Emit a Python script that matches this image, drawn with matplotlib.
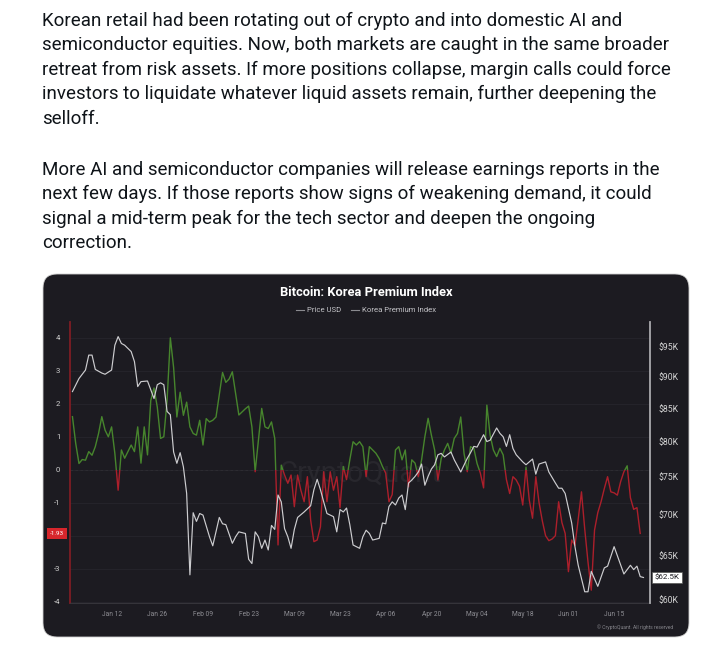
import numpy as np
import matplotlib
matplotlib.use("Agg")
import matplotlib.pyplot as plt
import matplotlib.dates as mdates
import matplotlib.transforms as mtransforms
from matplotlib.patches import FancyBboxPatch, Rectangle
from matplotlib.lines import Line2D

# ── data ─────────────────────────────────────────────────────────────────────
START = np.datetime64("2025-12-31")

price_days = [0, 2, 4, 5, 6, 7, 9, 10, 12, 13, 14, 15, 16, 18, 19, 20, 21, 23, 25, 26,
              27, 28, 29, 30, 31, 32, 33, 34, 35, 36, 37, 38, 39, 40, 42, 43, 45, 46, 47, 49,
              50, 51, 53, 54, 55, 56, 57, 58, 59, 60, 61, 62, 63, 64, 65, 66, 67, 68, 69, 71,
              73, 74, 75, 76, 77, 78, 80, 81, 82, 83, 84, 85, 86, 88, 89, 90, 91, 92, 94, 95,
              96, 97, 98, 99, 100, 101, 102, 103, 104, 105, 106, 107, 108, 109, 110, 111, 112, 113, 114, 116,
              117, 119, 121, 122, 123, 124, 126, 127, 128, 130, 131, 132, 133, 134, 135, 136, 138, 139, 141, 142,
              143, 145, 146, 148, 149, 150, 151, 153, 154, 155, 157, 158, 159, 161, 163, 164, 166, 169, 171, 172,
              173, 174, 175]
price_k = [87.6, 89.7, 91.1, 93.6, 93.6, 91.2, 90.6, 90.4, 91.1, 95.3, 96.8, 95.6, 95.3, 94.2, 92.5, 88.4, 89.2, 89.3, 86.5, 88.7,
           89.0, 88.7, 84.5, 84.0, 78.5, 76.9, 78.4, 76.4, 72.8, 62.8, 70.3, 69.2, 70.2, 70.0, 67.3, 66.2, 69.7, 68.9, 68.8, 66.5,
           67.3, 67.9, 67.7, 64.6, 64.1, 67.9, 67.3, 65.9, 66.9, 65.7, 68.7, 68.2, 72.6, 71.7, 68.3, 67.3, 65.9, 68.2, 69.7, 70.4,
           71.2, 73.3, 74.7, 73.3, 71.7, 70.2, 69.8, 67.9, 70.7, 70.4, 70.9, 68.8, 66.3, 65.9, 67.3, 68.1, 67.7, 66.9, 67.1, 69.0,
           68.9, 71.1, 71.7, 71.3, 72.2, 72.6, 70.7, 74.2, 74.6, 75.1, 75.7, 76.8, 73.9, 75.1, 76.1, 76.7, 78.1, 78.3, 77.8, 78.5,
           77.4, 75.7, 77.6, 78.4, 79.3, 79.2, 81.0, 80.0, 80.2, 82.0, 81.2, 80.7, 79.3, 81.0, 79.0, 78.1, 77.1, 76.7, 77.5, 75.4,
           76.8, 77.1, 75.7, 74.2, 73.5, 73.5, 72.8, 69.0, 66.1, 63.9, 60.9, 60.9, 63.2, 61.5, 63.6, 63.8, 66.1, 62.9, 63.9, 63.4,
           63.8, 62.6, 62.5]

kpi_days = [0, 1, 2, 3, 4, 5, 6, 7, 8, 9, 10, 11, 12, 13, 14, 15, 16, 17, 18, 19,
            20, 21, 22, 23, 24, 25, 26, 27, 28, 29, 30, 31, 32, 33, 34, 35, 36, 37, 38, 39,
            40, 41, 42, 43, 44, 46, 47, 48, 49, 51, 53, 54, 55, 56, 58, 59, 60, 61, 62, 63,
            64, 65, 66, 67, 68, 69, 70, 71, 72, 73, 74, 75, 76, 77, 78, 79, 80, 81, 82, 83,
            84, 85, 86, 87, 88, 89, 90, 91, 92, 93, 94, 95, 96, 97, 98, 99, 100, 101, 102, 103,
            104, 105, 106, 107, 108, 109, 110, 111, 112, 113, 114, 115, 116, 117, 118, 119, 120, 121, 122, 123,
            124, 125, 126, 127, 128, 129, 130, 131, 132, 133, 134, 135, 136, 137, 138, 139, 140, 141, 142, 143,
            144, 145, 146, 147, 148, 149, 150, 151, 152, 153, 154, 155, 156, 157, 158, 159, 160, 161, 162, 163,
            164, 165, 166, 167, 168, 169, 170, 171, 172, 173, 174]
kpi_values = [1.61, 0.80, 0.19, 0.31, 0.29, 0.55, 0.44, 0.70, 1.10, 1.61, 1.20, 1.00, 1.30, 0.49, -0.62, 0.60, 0.35, 0.55, 0.75, 0.55,
              1.30, 0.20, 1.30, 0.45, 2.10, 2.48, 1.90, 0.95, 1.00, 2.10, 4.00, 3.10, 1.60, 2.35, 1.65, 2.05, 1.30, 1.10, 1.05, 1.50,
              0.75, 1.55, 1.45, 1.50, 1.60, 2.95, 2.65, 2.75, 2.97, 1.66, 1.85, 1.93, 1.30, -0.06, 1.86, 1.30, 1.25, 1.45, 0.95, -2.28,
              0.14, -0.16, -0.41, -0.16, -1.12, -0.16, -0.62, -0.97, -0.21, -1.53, -2.18, -2.13, -1.73, -0.06, -0.97, -0.06, -0.62, -0.21, -1.15, 0.10,
              -0.30, 0.30, 0.85, 0.75, 0.85, 0.70, -0.21, 0.70, 0.60, 0.50, 0.34, 0.10, -0.10, -0.97, -0.75, 0.60, 0.70, 0.30, 0.60, -0.52,
              0.30, 0.20, -0.21, 0.30, 1.00, 1.56, 1.05, 0.60, -0.31, 0.34, 0.60, 0.80, 0.50, 0.95, 1.10, 1.60, 0.50, -0.06, 0.70, 0.65,
              0.19, -0.10, -0.55, 1.96, 1.05, 0.60, 0.40, 0.65, 0.45, -0.30, -0.72, -0.21, -0.31, -0.50, -1.07, 0.08, -0.92, -1.47, -0.21, -1.00,
              -1.55, -2.00, -2.15, -2.10, -2.00, -0.97, -1.60, -1.93, -3.09, -2.13, -2.30, -1.50, -0.67, -1.80, -2.80, -3.65, -1.83, -1.30, -0.97, -0.57,
              -0.21, -0.67, -0.70, -0.77, -0.36, -0.06, 0.12, -0.85, -1.20, -1.15, -1.93]

kpi_ticks = [-4, -3, -2, -1, 0, 1, 2, 3, 4]
kpi_tick_labels = ["-4", "-3", "", "-1", "0", "1", "2", "3", "4"]   # -2 sits under the value tag
price_ticks = [60, 65, 70, 75, 80, 85, 90, 95]
date_ticks = ["2026-01-12", "2026-01-26", "2026-02-09", "2026-02-23", "2026-03-09", "2026-03-23",
              "2026-04-06", "2026-04-20", "2026-05-04", "2026-05-18", "2026-06-01", "2026-06-15"]

paragraph_1 = [
    "Korean retail had been rotating out of crypto and into domestic AI and",
    "semiconductor equities. Now, both markets are caught in the same broader",
    "retreat from risk assets. If more positions collapse, margin calls could force",
    "investors to liquidate whatever liquid assets remain, further deepening the",
    "selloff.",
]
paragraph_2 = [
    "More AI and semiconductor companies will release earnings reports in the",
    "next few days. If those reports show signs of weakening demand, it could",
    "signal a mid-term peak for the tech sector and deepen the ongoing",
    "correction.",
]

# ── style ────────────────────────────────────────────────────────────────────
W, H = 702, 651
BG = "#1c1b21"
GREEN = "#47852d"
RED = "#ac1f2b"
WHITE_LINE = "#cdcdd0"
TEXT_FONT = ["Roboto", "DejaVu Sans"]

fig = plt.figure(figsize=(W / 100, H / 100), dpi=100)
fig.patch.set_facecolor("white")

# tweet text, sized so the second line spans the same width as in the screenshot
px = lambda y: 1 - y / H
renderer = fig.canvas.get_renderer()
probe = fig.text(0, 0, paragraph_1[1], fontsize=13, family=TEXT_FONT)
w = probe.get_window_extent(renderer).width
probe.remove()
text_size = 13 * 626 / w
for i, line in enumerate(paragraph_1):
    fig.text(42 / W, px(21 + 24.4 * i), line, fontsize=text_size, family=TEXT_FONT,
             color="#0f1419", va="center", ha="left")
for i, line in enumerate(paragraph_2):
    fig.text(42 / W, px(170 + 24.4 * i), line, fontsize=text_size, family=TEXT_FONT,
             color="#0f1419", va="center", ha="left")

# dark chart card (pixel coords)
card = FancyBboxPatch((43, H - 637), 646, 363,
                      boxstyle="round,pad=0,rounding_size=14",
                      transform=mtransforms.IdentityTransform(),
                      facecolor=BG, edgecolor="#d0d0d0", linewidth=0.6, zorder=-5)
fig.patches.append(card)

ax = fig.add_axes([70 / W, 1 - 603 / H, 580 / W, 281 / H])
ax.set_facecolor("none")
ax2 = ax.twinx()

# x axis
kx = START + np.array(kpi_days)
pxd = START + np.array(price_days)
ax.set_xlim(START - np.timedelta64(18, "h"), START + np.timedelta64(177 * 24, "h"))
ax.set_xticks([np.datetime64(d) for d in date_ticks])
ax.xaxis.set_major_formatter(mdates.DateFormatter("%b %d"))
ax.tick_params(axis="x", length=0, pad=6, labelsize=4.8, labelcolor="#8e8e94")
for lab in ax.get_xticklabels():
    lab.set_family(TEXT_FONT)

# left axis: premium index
ax.set_ylim(-4.04, 4.48)
ax.set_yticks(kpi_ticks)
ax.set_yticklabels(kpi_tick_labels)
ax.tick_params(axis="y", length=0, pad=7, labelsize=5.6, labelcolor="#cfcfcf")
for lab in ax.get_yticklabels():
    lab.set_family(TEXT_FONT)
ax.grid(axis="y", color="#26252c", linewidth=0.6)
ax.axhline(0, color="#55545a", linewidth=0.6, linestyle=(0, (3, 3)), zorder=1)

# watermark
ax.text(0.5, 0.46, "CryptoQuant", transform=ax.transAxes, ha="center", va="center",
        fontsize=21, color="#28272d", family=TEXT_FONT, zorder=0)

# premium index coloured by sign
blend = mtransforms.blended_transform_factory(ax.transAxes, ax.transData)
g_line, = ax.plot(kx, kpi_values, color=GREEN, linewidth=1.0, zorder=3)
r_line, = ax.plot(kx, kpi_values, color=RED, linewidth=1.0, zorder=3)
g_line.set_clip_path(Rectangle((0, 0), 1, 100, transform=blend))
r_line.set_clip_path(Rectangle((0, -100), 1, 100, transform=blend))

# right axis: price, log scale
ax2.set_yscale("log")
ax2.plot(pxd, price_k, color=WHITE_LINE, linewidth=0.85, zorder=4)
ax2.set_ylim(59.67, 99.4)
ax2.set_yticks(price_ticks)
ax2.set_yticklabels([f"${t}K" for t in price_ticks])
ax2.yaxis.set_minor_locator(matplotlib.ticker.NullLocator())
ax2.tick_params(axis="y", length=0, pad=6, labelsize=6.2, labelcolor="#d4d4d4")
for lab in ax2.get_yticklabels():
    lab.set_family(TEXT_FONT)

for a in (ax, ax2):
    for side in ("top", "left", "right", "bottom"):
        a.spines[side].set_visible(False)
ax.spines["left"].set_visible(True)
ax.spines["left"].set_color("#7e1d24")
ax.spines["left"].set_linewidth(1.3)
ax2.spines["right"].set_visible(True)
ax2.spines["right"].set_color("#a9a9ad")
ax2.spines["right"].set_linewidth(1.3)
ax.spines["bottom"].set_visible(True)
ax.spines["bottom"].set_color("#3a3940")
ax.spines["bottom"].set_linewidth(0.6)

# last value tags
ax.annotate(f"{kpi_values[-1]:.2f}", xy=(0, kpi_values[-1]), xycoords=blend,
            xytext=(-13, 0), textcoords="offset pixels", ha="center", va="center",
            fontsize=4.6, color="white", family=TEXT_FONT, zorder=6,
            bbox=dict(boxstyle="square,pad=0.5", facecolor="#d7262c", edgecolor="none"),
            annotation_clip=False)
blend2 = mtransforms.blended_transform_factory(ax2.transAxes, ax2.transData)
ax2.annotate(f"${price_k[-1]}K", xy=(1, price_k[-1]), xycoords=blend2,
             xytext=(17, 0), textcoords="offset pixels", ha="center", va="center",
             fontsize=5.8, color="#1c1b21", family=TEXT_FONT, zorder=6,
             bbox=dict(boxstyle="square,pad=0.3", facecolor="white", edgecolor="#555555", linewidth=0.5),
             annotation_clip=False)

# title and legend
fig.text(366 / W, px(292), "Bitcoin: Korea Premium Index", ha="center", va="center",
         fontsize=9.3, fontweight="bold", color="white", family=TEXT_FONT)
handles = [Line2D([], [], color="#8a8a8f", linewidth=0.8),
           Line2D([], [], color="#8a8a8f", linewidth=0.8)]
fig.legend(handles, ["Price USD", "Korea Premium Index"], loc="center",
           bbox_to_anchor=(366 / W, px(310)), ncol=2, frameon=False,
           labelcolor="#c2c2c6", handlelength=1.0, handletextpad=0.4,
           columnspacing=1.2, prop={"family": TEXT_FONT, "size": 5.6})

fig.text(673 / W, px(627), "© CryptoQuant. All rights reserved", ha="right", va="center",
         fontsize=3.6, color="#86868c", family=TEXT_FONT)

fig.savefig("out.png", dpi=100, facecolor="white")
